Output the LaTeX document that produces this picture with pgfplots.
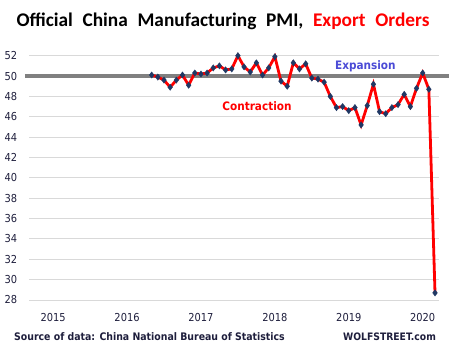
\documentclass[border=0pt]{standalone}
\usepackage{fontspec}
\setmainfont{DejaVu Sans}
\newfontfamily\titlefont{Carlito}
\newfontfamily\tahfont{DejaVu Sans}[FakeStretch=0.9]
\usepackage{pgfplots}
\pgfplotsset{compat=1.18}
\definecolor{navy}{HTML}{1F3864}
\definecolor{expblue}{HTML}{4B4BD6}
\definecolor{gridgray}{HTML}{D9D9D9}
\definecolor{refgray}{HTML}{808080}
\definecolor{ink}{HTML}{1E1E3C}
\begin{document}
\begin{tikzpicture}[x=1bp,y=1bp]
\path[use as bounding box] (0,0) rectangle (449,350);
\begin{axis}[
  at={(29.3bp,50bp)}, anchor=south west,
  scale only axis, width=409.7bp, height=249.4bp,
  xmin=-4.87, xmax=61.65, ymin=28, ymax=52.5,
  axis line style={draw=none},
  major tick length=0pt,
  ymajorgrids, grid style={gridgray, line width=1bp},
  ytick={28,30,...,52},
  xtick={-1,11,23,35,47,59},
  xticklabels={2015,2016,2017,2018,2019,2020},
  /pgf/number format/assume math mode=true,
  tick label style={font=\tahfont\fontsize{11}{13}\selectfont, text=ink, inner sep=0pt},
  yticklabel style={anchor=east, xshift=-12bp},
  xticklabel style={anchor=center, yshift=-17.3bp},
  clip=false,
]
\addplot[refgray, line width=3.5bp, forget plot] coordinates {(-5.57,50) (63.27,50)};
\addplot[red, line width=2.8bp, mark=diamond*, mark size=3.2bp,
  mark options={draw=navy, fill=navy, line width=0.3bp}] coordinates {
(15,50.1) (16,49.9) (17,49.6) (18,48.9) (19,49.6) (20,50.1) (21,49.1) (22,50.3) (23,50.2)
(24,50.3) (25,50.8) (26,51.0) (27,50.6) (28,50.7) (29,52.0) (30,50.9) (31,50.4) (32,51.3)
(33,50.1) (34,50.8) (35,51.9)
(36,49.5) (37,49.0) (38,51.3) (39,50.7) (40,51.2) (41,49.8) (42,49.7) (43,49.4) (44,48.0)
(45,46.9) (46,47.0) (47,46.6)
(48,46.9) (49,45.2) (50,47.1) (51,49.2) (52,46.5) (53,46.3) (54,46.9) (55,47.2) (56,48.2)
(57,47.0) (58,48.8) (59,50.3)
(60,48.7) (61,28.7)
};
\node[font=\tahfont\bfseries\fontsize{11.7}{14}\selectfont, text=expblue] at (axis cs:49.7,50.98) {Expansion};
\node[font=\tahfont\bfseries\fontsize{11.7}{14}\selectfont, text=red] at (axis cs:32.1,47.05) {Contraction};
\end{axis}
\node[inner sep=0pt] at (223,328.5) {\titlefont\bfseries\fontsize{19.4}{22}\selectfont Official\hspace{0.5em}China\hspace{0.5em}Manufacturing\hspace{0.5em}PMI,\hspace{0.5em}{\color{red}Export\hspace{0.5em}Orders}};
\node[inner sep=0pt, anchor=west, text=ink] at (14,13) {\tahfont\bfseries\fontsize{10.45}{12}\selectfont Source of data: China National Bureau of Statistics};
\node[inner sep=0pt, text=ink] at (389.5,13) {\tahfont\bfseries\fontsize{10.3}{12}\selectfont WOLFSTREET.com};
\end{tikzpicture}
\end{document}
